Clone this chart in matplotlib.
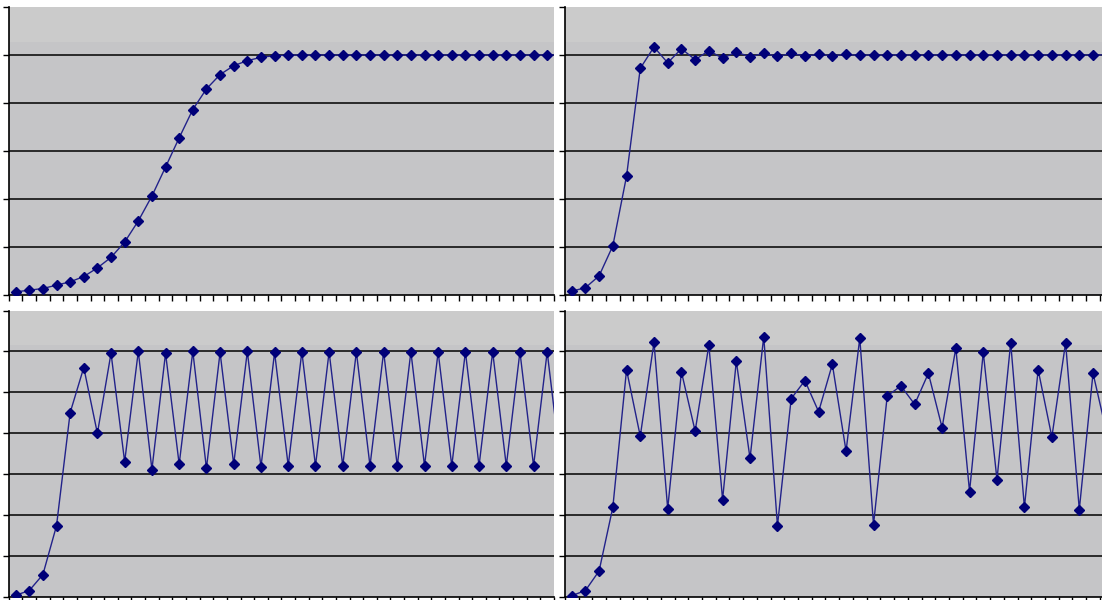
import numpy as np
import matplotlib
matplotlib.use("Agg")
import matplotlib.pyplot as plt

# values (one point per step)
top_left = [0.011, 0.018, 0.025, 0.039, 0.053, 0.075, 0.111, 0.155, 0.219, 0.307,
            0.411, 0.532, 0.654, 0.772, 0.858, 0.918, 0.955, 0.976, 0.990, 0.997,
            0.999, 1.0, 1.0, 1.0, 1.0, 1.0, 1.0, 1.0, 1.0, 1.0,
            1.0, 1.0, 1.0, 1.0, 1.0, 1.0, 1.0, 1.0, 1.0, 1.0, 1.0]
top_right = [0.014, 0.028, 0.078, 0.203, 0.494, 0.944, 1.033, 0.967, 1.026, 0.980,
             1.018, 0.986, 1.012, 0.992, 1.007, 0.994, 1.006, 0.996, 1.002, 0.997,
             1.002, 0.998, 1.001, 0.999, 1.001, 0.999, 1.0, 1.0, 1.0, 1.0,
             1.0, 1.0, 1.0, 1.0, 1.0, 1.0, 1.0, 1.0, 1.0, 1.0]
bottom_left = [0.007, 0.030, 0.108, 0.347, 0.900, 1.121, 0.799, 1.191, 0.660, 1.200,
               0.622, 1.191, 0.648, 1.200, 0.628, 1.195, 0.648, 1.200, 0.635, 1.195,
               0.640, 1.198, 0.640, 1.198, 0.640, 1.198, 0.640, 1.198, 0.640, 1.198,
               0.640, 1.198, 0.640, 1.198, 0.640, 1.198, 0.640, 1.198, 0.640, 1.198,
               0.640]
bottom_right = [0.005, 0.030, 0.126, 0.437, 1.110, 0.785, 1.244, 0.430, 1.100, 0.810,
                1.231, 0.475, 1.152, 0.677, 1.272, 0.347, 0.969, 1.057, 0.905, 1.137,
                0.712, 1.265, 0.352, 0.982, 1.031, 0.941, 1.093, 0.827, 1.216, 0.514,
                1.195, 0.573, 1.242, 0.437, 1.110, 0.781, 1.242, 0.426, 1.093, 0.800]

W, H = 1102, 600
fig = plt.figure(figsize=(W / 100, H / 100), dpi=100)
fig.patch.set_facecolor("white")

step = 13.72  # pixels per category


def panel(x0, x1, ytop, ybot, vals, ymax):
    ax = fig.add_axes([x0 / W, (H - ybot) / H, (x1 - x0) / W, (ybot - ytop) / H])
    ax.set_facecolor("#c5c5c7")
    ncat = (x1 - x0) / step
    ax.set_xlim(-0.5, -0.5 + ncat)
    ax.set_ylim(0, ymax)
    # slightly lighter band near the top, like the dithered fill of the original
    ax.axhspan(ymax * 0.88, ymax, color="#cbcbcb", lw=0, zorder=0)
    grid = np.arange(0.2, ymax - 0.01, 0.2)
    for g in grid:
        ax.axhline(g, color="black", lw=1.1, zorder=1)
    ax.plot(np.arange(len(vals)), vals, color="#22228a", lw=1.0,
            marker="D", ms=4.6, mfc="#000078", mec="#000078", zorder=3, clip_on=True)
    ax.set_xticks(np.arange(-0.5, ncat, 1.0))
    ax.set_yticks(np.arange(0, ymax + 0.01, 0.2))
    ax.tick_params(direction="out", length=4, width=1, color="black",
                   labelbottom=False, labelleft=False)
    for s in ("top", "right"):
        ax.spines[s].set_visible(False)
    for s in ("left", "bottom"):
        ax.spines[s].set_color("black")
        ax.spines[s].set_linewidth(1.2)
    return ax


panel(8.8, 554, 7, 294.5, top_left, 1.2)
panel(564.8, 1102, 7, 294.5, top_right, 1.2)
panel(8.8, 554, 310.5, 596.7, bottom_left, 1.4)
panel(564.8, 1102, 310.5, 596.7, bottom_right, 1.4)

fig.savefig("out.png", dpi=100)
